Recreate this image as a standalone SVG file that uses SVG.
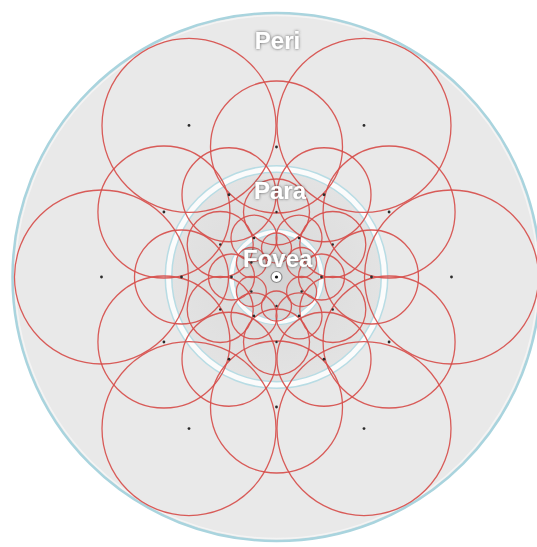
<svg xmlns="http://www.w3.org/2000/svg" width="537" height="547" viewBox="0 0 537 547">
<style>
.rc{fill:none;stroke:#d64b48;stroke-width:1.3;stroke-opacity:0.9}
.dot{fill:#2a2a2a}
.lbl{font-family:"Liberation Sans",Arial,sans-serif;font-weight:bold;font-size:24px;fill:#ffffff;text-anchor:middle}
</style>
<defs>
<filter id="glow" x="-30%" y="-50%" width="160%" height="200%">
<feGaussianBlur in="SourceAlpha" stdDeviation="1.8" result="b"/>
<feFlood flood-color="#3a3a3a" flood-opacity="0.85"/>
<feComposite in2="b" operator="in" result="s"/>
<feMerge><feMergeNode in="s"/><feMergeNode in="SourceGraphic"/></feMerge>
</filter>
<radialGradient id="paraFill" cx="0.5" cy="0.5" r="0.5">
<stop offset="0" stop-color="#d9d9d9"/>
<stop offset="1" stop-color="#e3e3e3"/>
</radialGradient>
<radialGradient id="fovFill" cx="0.5" cy="0.5" r="0.5">
<stop offset="0" stop-color="#d2d2d2"/>
<stop offset="1" stop-color="#dadada"/>
</radialGradient>
</defs>
<rect x="0" y="0" width="537" height="547" fill="#ffffff"/>
<g id="background">
<circle cx="276.5" cy="277" r="264" fill="#e9e9e9" stroke="#a9d4de" stroke-width="2.5"/>
<circle cx="276.5" cy="277" r="261.5" fill="none" stroke="#f4f4f4" stroke-width="1.5"/>
<circle cx="276.5" cy="277" r="108" fill="url(#paraFill)"/>
<circle cx="276.5" cy="277" r="108" fill="none" stroke="#b8dce4" stroke-width="8"/>
<circle cx="276.5" cy="277" r="108" fill="none" stroke="#fbfbfb" stroke-width="5"/>
<circle cx="276.5" cy="277" r="45" fill="url(#fovFill)"/>
<circle cx="276.5" cy="277" r="45" fill="none" stroke="#b8dce4" stroke-width="6.5"/>
<circle cx="276.5" cy="277" r="45" fill="none" stroke="#fbfbfb" stroke-width="4"/>
</g>
<g id="peri">
<circle class="rc" cx="451.5" cy="277" r="87"/>
<circle class="rc" cx="364" cy="125.45" r="87"/>
<circle class="rc" cx="189" cy="125.45" r="87"/>
<circle class="rc" cx="101.5" cy="277" r="87"/>
<circle class="rc" cx="189" cy="428.55" r="87"/>
<circle class="rc" cx="364" cy="428.55" r="87"/>
<circle class="rc" cx="389.08" cy="212" r="66"/>
<circle class="rc" cx="276.5" cy="147" r="66"/>
<circle class="rc" cx="163.92" cy="212" r="66"/>
<circle class="rc" cx="163.92" cy="342" r="66"/>
<circle class="rc" cx="276.5" cy="407" r="66"/>
<circle class="rc" cx="389.08" cy="342" r="66"/>
</g>
<g id="para">
<circle class="rc" cx="371.5" cy="277" r="47"/>
<circle class="rc" cx="324" cy="194.73" r="47"/>
<circle class="rc" cx="229" cy="194.73" r="47"/>
<circle class="rc" cx="181.5" cy="277" r="47"/>
<circle class="rc" cx="229" cy="359.27" r="47"/>
<circle class="rc" cx="324" cy="359.27" r="47"/>
<circle class="rc" cx="332.79" cy="244.5" r="33"/>
<circle class="rc" cx="276.5" cy="212" r="33"/>
<circle class="rc" cx="220.21" cy="244.5" r="33"/>
<circle class="rc" cx="220.21" cy="309.5" r="33"/>
<circle class="rc" cx="276.5" cy="342" r="33"/>
<circle class="rc" cx="332.79" cy="309.5" r="33"/>
</g>
<g id="fovea">
<circle class="rc" cx="321.5" cy="277" r="23"/>
<circle class="rc" cx="299" cy="238.03" r="23"/>
<circle class="rc" cx="254" cy="238.03" r="23"/>
<circle class="rc" cx="231.5" cy="277" r="23"/>
<circle class="rc" cx="254" cy="315.97" r="23"/>
<circle class="rc" cx="299" cy="315.97" r="23"/>
<circle class="rc" cx="301.61" cy="262.5" r="15"/>
<circle class="rc" cx="276.5" cy="248" r="15"/>
<circle class="rc" cx="251.39" cy="262.5" r="15"/>
<circle class="rc" cx="251.39" cy="291.5" r="15"/>
<circle class="rc" cx="276.5" cy="306" r="15"/>
<circle class="rc" cx="301.61" cy="291.5" r="15"/>
</g>
<g id="centers">
<circle class="dot" cx="451.5" cy="277" r="1.4"/>
<circle class="dot" cx="364" cy="125.45" r="1.4"/>
<circle class="dot" cx="189" cy="125.45" r="1.4"/>
<circle class="dot" cx="101.5" cy="277" r="1.4"/>
<circle class="dot" cx="189" cy="428.55" r="1.4"/>
<circle class="dot" cx="364" cy="428.55" r="1.4"/>
<circle class="dot" cx="389.08" cy="212" r="1.4"/>
<circle class="dot" cx="276.5" cy="147" r="1.4"/>
<circle class="dot" cx="163.92" cy="212" r="1.4"/>
<circle class="dot" cx="163.92" cy="342" r="1.4"/>
<circle class="dot" cx="276.5" cy="407" r="1.4"/>
<circle class="dot" cx="389.08" cy="342" r="1.4"/>
<circle class="dot" cx="371.5" cy="277" r="1.4"/>
<circle class="dot" cx="324" cy="194.73" r="1.4"/>
<circle class="dot" cx="229" cy="194.73" r="1.4"/>
<circle class="dot" cx="181.5" cy="277" r="1.4"/>
<circle class="dot" cx="229" cy="359.27" r="1.4"/>
<circle class="dot" cx="324" cy="359.27" r="1.4"/>
<circle class="dot" cx="332.79" cy="244.5" r="1.2"/>
<circle class="dot" cx="276.5" cy="212" r="1.2"/>
<circle class="dot" cx="220.21" cy="244.5" r="1.2"/>
<circle class="dot" cx="220.21" cy="309.5" r="1.2"/>
<circle class="dot" cx="276.5" cy="342" r="1.2"/>
<circle class="dot" cx="332.79" cy="309.5" r="1.2"/>
<circle class="dot" cx="321.5" cy="277" r="1.4"/>
<circle class="dot" cx="299" cy="238.03" r="1.4"/>
<circle class="dot" cx="254" cy="238.03" r="1.4"/>
<circle class="dot" cx="231.5" cy="277" r="1.4"/>
<circle class="dot" cx="254" cy="315.97" r="1.4"/>
<circle class="dot" cx="299" cy="315.97" r="1.4"/>
<circle class="dot" cx="301.61" cy="262.5" r="1.2"/>
<circle class="dot" cx="251.39" cy="262.5" r="1.2"/>
<circle class="dot" cx="251.39" cy="291.5" r="1.2"/>
<circle class="dot" cx="276.5" cy="306" r="1.2"/>
<circle class="dot" cx="301.61" cy="291.5" r="1.2"/>
</g>
<g id="fovea-center">
<circle cx="276.5" cy="277" r="5.5" fill="#ffffff" stroke="#8a8a8a" stroke-width="1.2"/>
<circle cx="276.5" cy="277" r="1.6" fill="#111111"/>
</g>
<g id="labels" filter="url(#glow)">
<text class="lbl" x="277.5" y="49">Peri</text>
<text class="lbl" x="280" y="199">Para</text>
<text class="lbl" x="277.7" y="267">Fovea</text>
</g>
</svg>
